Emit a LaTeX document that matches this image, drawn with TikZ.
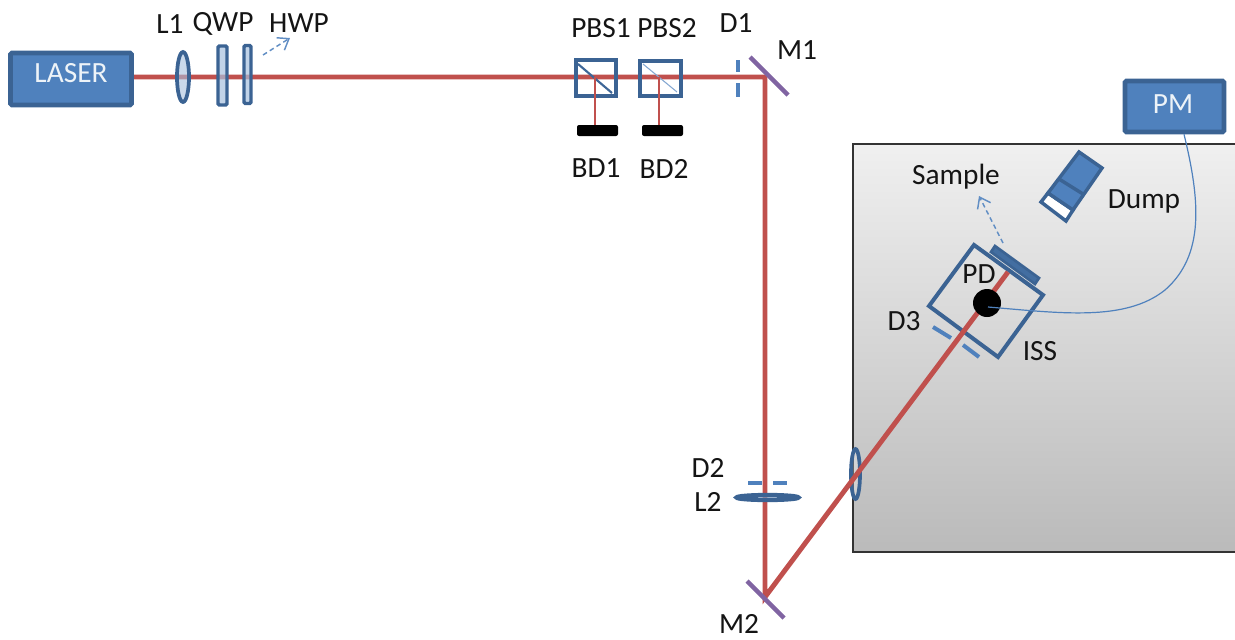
\documentclass[tikz,border=0pt]{standalone}
\usepackage{fontspec}
\setmainfont{Carlito}
\usetikzlibrary{arrows.meta}
\definecolor{fillb}{HTML}{4F81BD}
\definecolor{edgeb}{HTML}{3B6393}
\definecolor{beamc}{HTML}{C0504D}
\definecolor{mirc}{HTML}{8064A2}
\tikzset{
  lab/.style={inner sep=0pt,font=\fontsize{22}{25}\selectfont,text=black!92},
  boxb/.style={draw=edgeb,line width=3.4pt,fill=fillb,rounded corners=1pt,inner sep=0pt},
  plate/.style={draw=edgeb,line width=2.6pt,fill=fillb!50,fill opacity=.7,rounded corners=1pt,inner sep=0pt},
  lensb/.style={draw=edgeb,line width=2.8pt,fill=fillb!50,fill opacity=.6},
  lensc/.style={draw=edgeb,line width=2.8pt,fill=white,fill opacity=.25},
  beam/.style={draw=beamc,line width=3.7pt},
  thinbeam/.style={draw=beamc,line width=.9pt},
  cube/.style={draw=edgeb,line width=3pt},
  mirror/.style={draw=mirc,line width=3.2pt},
  dia/.style={draw=fillb,line width=3pt},
  dump/.style={fill=black,rounded corners=1.5pt},
  dasharrow/.style={draw=fillb!90,line width=1.1pt,dash pattern=on 3.5pt off 2.5pt,-{Straight Barb[length=7.5pt,width=11pt]}},
  fibre/.style={draw=fillb,line width=.9pt},
  stage/.style={draw=black!80,line width=1.1pt,top color=black!6,bottom color=black!27},
}
\begin{document}
\begin{tikzpicture}[x=0.75pt,y=-0.75pt]
\useasboundingbox (0,0) rectangle (1235,639);
% stage
\path[stage] (853,144) -- (1237,144) -- (1237,552) -- (853,552) -- cycle;
% named points
\coordinate (laserout) at (133,77);
\coordinate (m1c) at (765,77);
\coordinate (m2c) at (765,597);
\coordinate (issend) at (1008,272);
\coordinate (m1a) at (750,57);
\coordinate (m1b) at (788,95);
\coordinate (m2a) at (747,581);
\coordinate (m2b) at (784,618);
\coordinate (pbsa) at (595,77);
\coordinate (pbsb) at (659,77);
% entrance lens, under the beam
\draw[lensc] (855.5,474) ellipse [x radius=4.5,y radius=25];
% ISS box and D3, under the beam
\draw[cube] (974,245) -- (1043,295) -- (998,357) -- (929,306) -- cycle;
\draw[dia] (933,327) -- (951,338) (963,345) -- (979,357);
% beam
\draw[beam] (laserout) -- (m1c) -- (m2c) -- (issend);
% laser, PM
\node[boxb,minimum width=90.75pt,minimum height=39pt] (laser) at (71,79) {};
\node[lab,text=white!90!fillb] (lasertxt) at (71,73) {LASER};
\node[boxb,minimum width=74.25pt,minimum height=38.25pt] (pm) at (1174.5,106.5) {};
\node[lab,text=white!90!fillb] (pmtxt) at (1173,104) {PM};
% L1, QWP, HWP
\draw[lensb] (183,77) ellipse [x radius=6,y radius=25];
\node[plate,minimum width=6.75pt,minimum height=44.25pt] (qwp) at (222.5,75.5) {};
\node[plate,minimum width=5.25pt,minimum height=43.5pt] (hwp) at (247.5,74.5) {};
\coordinate (hwpa) at (263,55);
\coordinate (hwpb) at (290,38);
\draw[dasharrow] (hwpa) -- (hwpb);
% PBS
\node[cube,minimum width=30pt,minimum height=27pt,inner sep=0pt] (pbs1) at (595.5,78) {};
\node[cube,minimum width=30.75pt,minimum height=26.25pt,inner sep=0pt] (pbs2) at (660.5,78.5) {};
\draw[edgeb!90!fillb,line width=1.6pt] (578,64) -- (612,93);
\draw[fillb!70,line width=.8pt] (643,64) -- (677,92);
\node[dump,minimum width=30.75pt,minimum height=8.25pt,inner sep=0pt] (bd1) at (597.5,130.5) {};
\node[dump,minimum width=30.75pt,minimum height=8.25pt,inner sep=0pt] (bd2) at (662.5,130.5) {};
\draw[thinbeam] (pbsa) -- (bd1.north -| pbsa);
\draw[thinbeam] (pbsb) -- (bd2.north -| pbsb);
% D1, M1, M2, D2, L2
\draw[dia] (738,60) -- (738,72) (738,83) -- (738,97);
\draw[mirror] (m1a) -- (m1b);
\draw[mirror] (m2a) -- (m2b);
\draw[dia] (748,483) -- (762,483) (773,483) -- (787,483);
\draw[draw=edgeb,line width=3.2pt,fill=fillb!50,fill opacity=.6] (767.5,497.5) ellipse [x radius=31,y radius=2.5];
% ISS parts above the beam
\draw[draw=edgeb,line width=2pt,fill=fillb!85!black] (995,246) -- (1039,278) -- (1035,284) -- (991,252) -- cycle;
\node[circle,fill=black,inner sep=0pt,minimum size=21pt] (pd) at (987,303) {};
\coordinate (sama) at (1003,243);
\coordinate (samb) at (979,196);
\draw[dasharrow] (sama) -- (samb);
% fibre
\coordinate (fibstart) at (988,307);
\draw[fibre] (fibstart) .. controls (1060,313) and (1125,322) .. (1165,290) .. controls (1205,255) and (1200,200) .. (pm.south -| 1184,0);
% Dump
\draw[draw=edgeb,line width=2.6pt,fill=white] (1048,193) -- (1073,210) -- (1066,221) -- (1041,202) -- cycle;
\draw[draw=edgeb,line width=2.6pt,fill=fillb] (1079,152) -- (1102,168) -- (1073,210) -- (1048,193) -- cycle;
\draw[edgeb,line width=2.6pt] (1059,179) -- (1083,194);
% labels
\node[lab] (l1) at (170,24) {L1};
\node[lab] (lqwp) at (223,24) {QWP};
\node[lab] (lhwp) at (299,23) {HWP};
\node[lab] (lpbs1) at (601,28) {PBS1};
\node[lab] (lpbs2) at (667,28) {PBS2};
\node[lab] (ld1) at (736,23) {D1};
\node[lab] (lm1) at (797,50) {M1};
\node[lab] (lbd1) at (596,168) {BD1};
\node[lab] (lbd2) at (664,169) {BD2};
\node[lab] (lsample) at (956,177) {Sample};
\node[lab] (ldump) at (1144,201) {Dump};
\node[lab] (lpd) at (979,274) {PD};
\node[lab] (ld3) at (904,321) {D3};
\node[lab] (liss) at (1040,351) {ISS};
\node[lab] (ld2) at (708,468) {D2};
\node[lab] (ll2) at (708,502) {L2};
\node[lab] (lm2) at (739,624) {M2};
\end{tikzpicture}
\end{document}
